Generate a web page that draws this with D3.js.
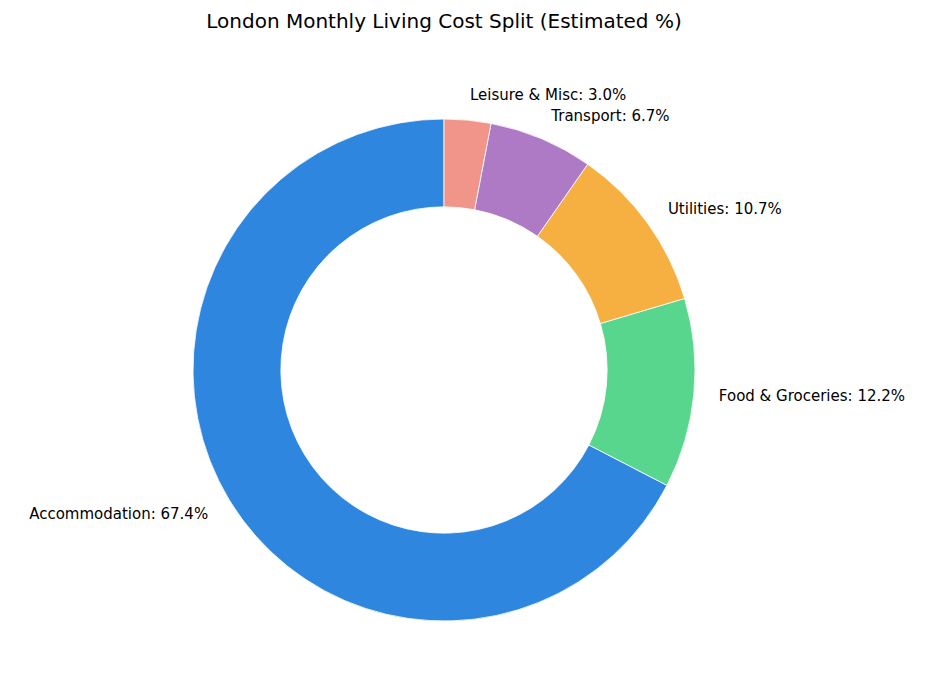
<!DOCTYPE html>
<html>
<head>
<meta charset="utf-8">
<script src="https://cdn.jsdelivr.net/npm/d3@7"></script>
<style>
  body { margin: 0; background: #fff; }
  text { font-family: "DejaVu Sans", sans-serif; fill: #000; }
</style>
</head>
<body>
<div id="plot"></div>
<script>
// chart data
const categories = ["Accommodation", "Food & Groceries", "Utilities", "Transport", "Leisure & Misc"];
const shares = [67.4, 12.2, 10.7, 6.7, 3.0];
const colours = ["#2e86de", "#58d68d", "#f5b041", "#af7ac5", "#f1948a"];

const width = 936, height = 696;
const cx = 444, cy = 370;
const outerR = 251, innerR = outerR * 0.65;

const svg = d3.select("div#plot")
  .append("svg")
  .attr("width", width)
  .attr("height", height);

svg.append("text")
  .attr("x", cx)
  .attr("y", 28)
  .attr("text-anchor", "middle")
  .style("font-size", "20px")
  .text("London Monthly Living Cost Split (Estimated %)");

// counter-clockwise from the top, like matplotlib startangle=90
const pie = d3.pie().sort(null).startAngle(0).endAngle(-2 * Math.PI);
const arcs = pie(shares);

const arc = d3.arc().innerRadius(innerR).outerRadius(outerR);

const g = svg.append("g").attr("transform", `translate(${cx},${cy})`);

g.selectAll("path")
  .data(arcs)
  .enter().append("path")
  .attr("d", arc)
  .attr("fill", (d, i) => colours[i])
  .attr("stroke", "#fff")
  .attr("stroke-width", 0.8);

// labels at 1.1 * radius
g.selectAll("text.lbl")
  .data(arcs)
  .enter().append("text")
  .attr("class", "lbl")
  .each(function(d, i) {
    const a = (d.startAngle + d.endAngle) / 2;
    const x = Math.sin(a) * outerR * 1.1;
    const y = -Math.cos(a) * outerR * 1.1;
    d3.select(this)
      .attr("x", x)
      .attr("y", y)
      .attr("dy", "0.35em")
      .attr("text-anchor", x >= 0 ? "start" : "end")
      .style("font-size", "15px")
      .text(`${categories[i]}: ${shares[i].toFixed(1)}%`);
  });
</script>
</body>
</html>
